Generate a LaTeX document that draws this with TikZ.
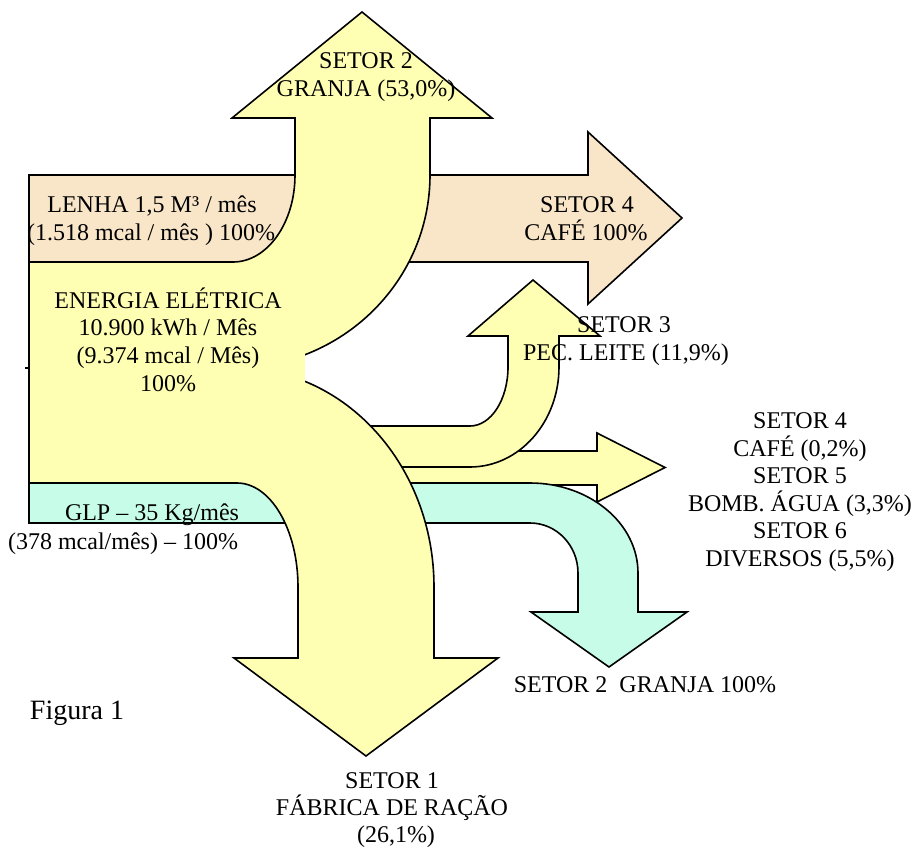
\documentclass[tikz,border=0pt]{standalone}
\usepackage{fontspec}
\setmainfont{Liberation Serif}
\definecolor{yel}{HTML}{FFFFB3}
\definecolor{beige}{HTML}{F9E6C9}
\definecolor{aqua}{HTML}{C6FCE8}
\tikzset{
  flow/.style={draw=black, line width=1.2pt, line join=miter},
  lbl/.style={anchor=base, inner sep=0pt, font=\fontsize{18}{21}\selectfont},
  biglbl/.style={anchor=base, inner sep=0pt, font=\fontsize{21}{25}\selectfont},
}
\begin{document}
\begin{tikzpicture}[x=0.75pt, y=-0.75pt]
\useasboundingbox (0,0) rectangle (915,847);
% LENHA arrow (beige)
\path[flow, fill=beige] (29,175) -- (588,175) -- (588,132) -- (682,218) -- (588,304) -- (588,262) -- (29,262) -- cycle;
% Setor 4/5/6 arrow (yellow)
\path[flow, fill=yel] (330,451) -- (597,451) -- (597,433) -- (665,467.5) -- (597,502) -- (597,485) -- (330,485) -- cycle;
% Setor 3 arrow (yellow, curved up)
\path[flow, fill=yel] (330,426) -- (470,426)
  .. controls (491,426) and (508,399.6) .. (508,367)
  -- (508,336) -- (468,336) -- (533,280) -- (600,336) -- (559,336) -- (559,367)
  .. controls (559,422.2) and (519.2,467) .. (470,467)
  -- (330,467) -- cycle;
% GLP arrow (aqua, curved down)
\path[flow, fill=aqua] (29,483) -- (530,483)
  .. controls (589.6,483) and (638,523.3) .. (638,573)
  -- (638,612) -- (687,612) -- (609,667) -- (531,612) -- (578,612) -- (578,573)
  .. controls (578,545.4) and (556.5,523) .. (530,523)
  -- (29,523) -- cycle;
% Setor 1 arrow (yellow, curved down)
\path[flow, fill=yel] (29,368) -- (237,368)
  .. controls (345.8,368) and (434,466) .. (434,587)
  -- (434,658) -- (498,658) -- (366,756) -- (234,658) -- (298,658) -- (298,587)
  .. controls (298,529.6) and (270.7,483) .. (237,483)
  -- (29,483) -- cycle;
% Setor 2 arrow (yellow, curved up)
\path[flow, fill=yel] (29,262) -- (233,262)
  .. controls (267.2,262) and (295,223) .. (295,175)
  -- (295,118) -- (232,118) -- (362,12) -- (492,118) -- (430,118) -- (430,175)
  .. controls (430,281.6) and (341.8,368) .. (233,368)
  -- (29,368) -- cycle;
% energy block cover
\fill[yel] (30,263.2) rectangle (305,481.8);
\draw[line width=1.2pt] (25,368) -- (29,368);
% texts
\node[lbl] (s2a) at (366,68) {SETOR 2};
\node[lbl] (s2b) at (366,96) {GRANJA (53,0\%)};
\node[lbl] (lea) at (152,212) {LENHA 1,5 M³ / mês};
\node[lbl] (leb) at (151,240) {(1.518 mcal / mês ) 100\%};
\node[lbl] (ena) at (168,308) {ENERGIA ELÉTRICA};
\node[lbl] (enb) at (168,335.5) {10.900 kWh / Mês};
\node[lbl] (enc) at (168,363) {(9.374 mcal / Mês)};
\node[lbl] (end) at (168,391) {100\%};
\node[lbl] (s4a) at (587,212) {SETOR 4};
\node[lbl] (s4b) at (586,240) {CAFÉ 100\%};
\node[lbl] (s3a) at (624,332) {SETOR 3};
\node[lbl] (s3b) at (626,360) {PEC. LEITE (11,9\%)};
\node[lbl] (r1) at (800,428) {SETOR 4};
\node[lbl] (r2) at (800,456) {CAFÉ (0,2\%)};
\node[lbl] (r3) at (800,483) {SETOR 5};
\node[lbl] (r4) at (800,511) {BOMB. ÁGUA (3,3\%)};
\node[lbl] (r5) at (800,538) {SETOR 6};
\node[lbl] (r6) at (800,566) {DIVERSOS (5,5\%)};
\node[lbl] (gr) at (645,692) {SETOR 2~~GRANJA 100\%};
\node[lbl] (gla) at (152,520) {GLP – 35 Kg/mês};
\node[lbl] (glb) at (123,549) {(378 mcal/mês) – 100\%};
\node[biglbl] (fig) at (77,719) {Figura 1};
\node[lbl] (s1a) at (392,788) {SETOR 1};
\node[lbl] (s1b) at (392,815) {FÁBRICA DE RAÇÃO};
\node[lbl] (s1c) at (396,842) {(26,1\%)};
\end{tikzpicture}
\end{document}
